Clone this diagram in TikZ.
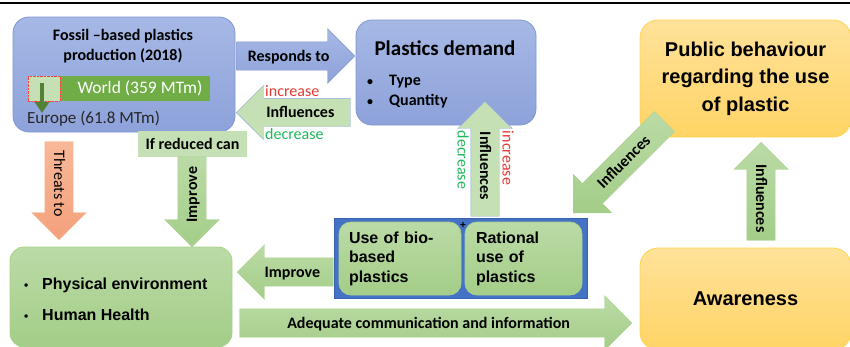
\documentclass[tikz,border=0pt]{standalone}
\usepackage{fontspec}
\setmainfont{Carlito}
\newfontfamily\arialf{Liberation Sans}
\usetikzlibrary{shapes.arrows,arrows.meta}

\definecolor{bluetop}{HTML}{A6B8E5}
\definecolor{bluebot}{HTML}{8DA2DA}
\definecolor{blueline}{HTML}{8196D2}
\definecolor{palegreen}{HTML}{C5E0B4}
\definecolor{paleblue}{HTML}{8FAADC}
\definecolor{greentop}{HTML}{BBDBA6}
\definecolor{greenbot}{HTML}{A3CD88}
\definecolor{greenline}{HTML}{A9D18E}
\definecolor{orangetop}{HTML}{F8B898}
\definecolor{orangebot}{HTML}{F4A07C}
\definecolor{yellowtop}{HTML}{FFE29A}
\definecolor{yellowbot}{HTML}{FFD465}
\definecolor{yellowline}{HTML}{FFD34F}
\definecolor{worldgreen}{HTML}{70AD47}
\definecolor{arrowdark}{HTML}{548235}
\definecolor{containerblue}{HTML}{4472C4}
\definecolor{containerline}{HTML}{3A63AE}
\definecolor{incred}{HTML}{E53935}
\definecolor{decgreen}{HTML}{1FB85A}

\newcommand{\dotitem}[1]{\makebox[#1][l]{\fontsize{12}{12}\selectfont\textbullet}}

\tikzset{bluebox/.style={draw=blueline,line width=0.8pt,top color=bluetop,bottom color=bluebot,rounded corners=16pt}}
\tikzset{greenbox/.style={draw=greenline,line width=0.8pt,top color=greentop,bottom color=greenbot,rounded corners=14pt}}
\tikzset{yellowbox/.style={draw=yellowline,line width=0.8pt,top color=yellowtop,bottom color=yellowbot,rounded corners=18pt}}
\tikzset{blockarrow/.style={single arrow,single arrow head extend=13pt,single arrow tip angle=90,
  minimum height=#1,inner xsep=0pt,inner ysep=0pt,text height=19pt,text depth=9pt,anchor=tip,
  font=\bfseries\fontsize{16}{19}\selectfont}}
\tikzset{greenarrow/.style={blockarrow=#1,draw=greenline,top color=greentop,bottom color=greenbot}}
\tikzset{bluearrow/.style={blockarrow=#1,draw=blueline,top color=bluetop,bottom color=bluebot}}
\tikzset{palearrow/.style={blockarrow=#1,draw=paleblue,fill=palegreen}}
\tikzset{orangearrow/.style={blockarrow=#1,draw=orangetop,top color=orangetop,bottom color=orangebot}}
\tikzset{sidelabel/.style={inner sep=0pt,font=\fontsize{16}{19}\selectfont}}

\begin{document}
\begin{tikzpicture}[x=1pt,y=-1pt]
	\clip (0,0) rectangle (850,346);
	\draw[line width=1.5pt] (0,3) -- (850,3);

	% fossil production
	\node[bluebox,minimum width=222pt,minimum height=115pt] (fossil) at (124,74.5) {};
	\node[font=\bfseries\fontsize{16}{20}\selectfont,align=center] (fossiltitle) at (123,46) {Fossil –based plastics\\production (2018)};
	\node[fill=worldgreen,minimum width=182pt,minimum height=25pt,inner sep=0pt] (world) at (119,88.5) {};
	\node[text=white,font=\fontsize{17.5}{20}\selectfont] (worldlabel) at (140,88) {World (359 MTm)};
	\node[draw=red!75,densely dotted,fill=palegreen,minimum width=32pt,minimum height=25pt,inner sep=0pt] (europebar) at (44,88.5) {};
	\coordinate (europetip) at (42,113);
	\draw[arrowdark,line width=4pt,-{Triangle[length=11pt,width=14pt]}] ([xshift=-2pt,yshift=-7pt]europebar.north) -- (europetip);
	\node[anchor=west,inner sep=0pt,text=black!85,font=\fontsize{17}{20}\selectfont] (europe) at (27,119) {Europe (61.8 MTm)};

	% demand
	\node[bluebox,minimum width=180pt,minimum height=105pt] (demand) at (446,72.5) {};
	\node[font=\bfseries\fontsize{21}{24}\selectfont] (demandtitle) at (445,48) {Plastics demand};
	\node[anchor=west,inner sep=0pt,font=\bfseries\fontsize{16}{19}\selectfont] (type) at (367,82) {\dotitem{22pt}Type};
	\node[anchor=west,inner sep=0pt,font=\bfseries\fontsize{16}{19}\selectfont] (quantity) at (367,101) {\dotitem{22pt}Quantity};

	\node[bluearrow=118pt] (responds) at (355,56) {Responds to};
	\node[palearrow=114pt,shape border rotate=180] (influleft) at (236,112.5) {Influences};
	\node[sidelabel,anchor=west,text=incred] (incleft) at (265,91) {increase};
	\node[sidelabel,anchor=west,text=decgreen] (decleft) at (265,134) {decrease};

	% effects on environment
	\node[fill=palegreen,minimum width=109pt,minimum height=26pt,font=\bfseries\fontsize{16}{19}\selectfont] (ifreduced) at (192.5,144) {If reduced can};
	\node[greenarrow=90pt,rotate=90,shape border rotate=180] (improvedown) at (192,247) {Improve};
	\node[orangearrow=98pt,rotate=-90,font=\fontsize{16}{19}\selectfont] (threats) at (59,240) {Threats to};

	\node[greenbox,minimum width=222pt,minimum height=100pt] (environment) at (121,297) {};
	\node[anchor=west,inner sep=0pt,font=\arialf\bfseries\fontsize{16}{19}\selectfont] (physical) at (24,285) {\dotitem{18pt}Physical environment};
	\node[anchor=west,inner sep=0pt,font=\arialf\bfseries\fontsize{16}{19}\selectfont] (health) at (24,315) {\dotitem{18pt}Human Health};

	\node[greenarrow=96pt,shape border rotate=180] (improveleft) at (237,272) {Improve};

	% measures
	\node[fill=containerblue,draw=containerline,line width=1pt,minimum width=253pt,minimum height=80pt] (measures) at (460.5,258) {};
	\node[greenbox,rounded corners=12pt,minimum width=122pt,minimum height=73pt,text width=102pt,inner xsep=10pt,align=left,
	  font=\arialf\bfseries\fontsize{16}{19.5}\selectfont] (biobased) at (400,258.5) {Use of bio-\\based\\plastics};
	\node[greenbox,rounded corners=12pt,minimum width=117pt,minimum height=73pt,text width=95pt,inner xsep=11pt,align=left,
	  font=\arialf\bfseries\fontsize{16}{19.5}\selectfont] (rational) at (523.5,258.5) {Rational\\use of\\plastics};
	\node[inner sep=0pt,font=\bfseries\fontsize{11}{11}\selectfont] (plus) at (463,225) {+};

	\node[palearrow=115pt,rotate=-90,shape border rotate=180] (influup) at (485,101) {Influences};
	\node[sidelabel,rotate=-90,text=decgreen] (decup) at (463,160) {decrease};
	\node[sidelabel,rotate=-90,text=incred] (incup) at (508,158) {increase};

	\node[greenarrow=392pt] (communication) at (632,323) {Adequate communication and information};

	% public side
	\node[yellowbox,minimum width=211pt,minimum height=117pt,align=center,
	  font=\arialf\bfseries\fontsize{20}{27.5}\selectfont] (behaviour) at (745.5,78.5) {Public behaviour\\regarding the use\\of plastic};
	\node[yellowbox,minimum width=211pt,minimum height=102pt,
	  font=\arialf\bfseries\fontsize{20}{24}\selectfont] (awareness) at (745.5,299) {Awareness};
	\node[greenarrow=129pt,rotate=45,shape border rotate=180] (infludiag) at (573,213) {Influences};
	\node[greenarrow=98pt,rotate=-90,shape border rotate=180] (influright) at (761,142) {Influences};

\end{tikzpicture}
\end{document}
